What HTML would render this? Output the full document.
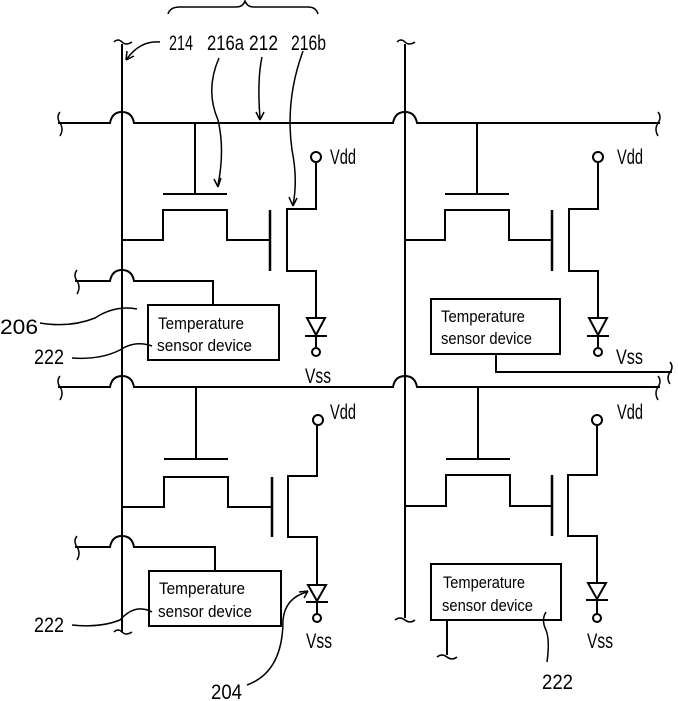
<!DOCTYPE html>
<html><head><meta charset="utf-8"><style>html,body{margin:0;padding:0;background:#fff}svg{display:block}</style></head><body>
<svg width="678" height="701" viewBox="0 0 678 701" xmlns="http://www.w3.org/2000/svg" font-family="Liberation Sans, sans-serif" fill="none" stroke="#000" stroke-width="2">
<path d="M168,14 Q170,7 180,7 L236,7 Q243,7 245,1 Q247,7 254,7 L308,7 Q316,7 318,14" stroke-width="1.5"/>
<path d="M122,44 L122,632"/>
<path d="M405,44 L405,618"/>
<path d="M114,42 q4,-4 8,0 q4,4 10,0" stroke-width="1.5"/>
<path d="M397,42 q4,-4 8,0 q4,4 10,0" stroke-width="1.5"/>
<path d="M114,632 q4,-4 8,0 q4,4 10,0" stroke-width="1.5"/>
<path d="M395,620 q5,-4 10,0 q5,4 10,0" stroke-width="1.5"/>
<path d="M58,123 L110,123 Q112,112 122,112 Q132,112 134,123 L393,123 Q395,112 405,112 Q415,112 417,123 L660,123"/>
<path d="M60,112 q-4,5 0,11 q4,6 0,13" stroke-width="1.5"/>
<path d="M658,112 q4,5 0,11 q-4,6 0,13" stroke-width="1.5"/>
<path d="M58,387 L110,387 Q112,376 122,376 Q132,376 134,387 L393,387 Q395,376 405,376 Q415,376 417,387 L660,387"/>
<path d="M60,376 q-4,5 0,11 q4,6 0,13" stroke-width="1.5"/>
<path d="M658,376 q4,5 0,11 q-4,6 0,13" stroke-width="1.5"/>
<path d="M75,281 L110,281 Q112,270 122,270 Q132,270 134,281 L213,281 L213,305"/>
<path d="M77,270 q-4,5 0,11 q4,6 0,13" stroke-width="1.5"/>
<path d="M75,547 L110,547 Q112,536 122,536 Q132,536 134,547 L215,547 L215,571"/>
<path d="M77,536 q-4,5 0,11 q4,6 0,13" stroke-width="1.5"/>
<path d="M496,354 L496,372 L672,372"/>
<path d="M670,362 q4,5 0,10 q-4,6 0,12" stroke-width="1.5"/>
<path d="M447,620 L447,655"/>
<path d="M437,657 q5,-4 10,0 q5,4 10,0" stroke-width="1.5"/>

<g>
<path d="M195,123 L195,194 M163,194 L227,194"/>
<path d="M122,240 L163,240 L163,210 L227,210 L227,240 L270,240"/>
<path d="M270,210 L270,271" stroke-width="2.5"/>
<path d="M316,163 L316,209 L287,209 L287,271 L316,271 L316,318"/>
<circle cx="316" cy="157" r="5"/>
<path d="M307,318 L325,318 L316,335 Z M305,336 L327,336 M316,336 L316,347"/>
<circle cx="316" cy="352" r="4"/>
</g>
<g transform="translate(282,0)">
<path d="M195,123 L195,194 M163,194 L227,194"/>
<path d="M123,240 L163,240 L163,210 L227,210 L227,240 L270,240"/>
<path d="M270,210 L270,271" stroke-width="2.5"/>
<path d="M316,163 L316,209 L287,209 L287,271 L316,271 L316,318"/>
<circle cx="316" cy="157" r="5"/>
<path d="M307,318 L325,318 L316,335 Z M305,336 L327,336 M316,336 L316,347"/>
<circle cx="316" cy="352" r="4"/>
</g>
<g transform="translate(1,265)">
<path d="M195,122 L195,194 M163,194 L227,194"/>
<path d="M121,242 L163,242 L163,212 L227,212 L227,242 L270,242"/>
<path d="M271,212 L271,272" stroke-width="2.5"/>
<path d="M316,161 L316,211 L287,211 L287,272 L316,272 L316,320"/>
<circle cx="317" cy="155" r="5"/>
<path d="M307,320 L325,320 L316,336 Z M305,337 L327,337 M316,337 L316,350"/>
<circle cx="316" cy="353" r="4"/>
</g>
<g transform="translate(283,265)">
<path d="M195,122 L195,194 M163,194 L227,194"/>
<path d="M122,241 L163,241 L163,210 L227,210 L227,241 L270,241"/>
<path d="M269,210 L269,271" stroke-width="2.5"/>
<path d="M314,161 L314,210 L285,210 L285,271 L314,271 L314,318"/>
<circle cx="314" cy="155" r="5"/>
<path d="M305,318 L323,318 L314,334 Z M303,335 L325,335 M314,335 L314,349"/>
<circle cx="314" cy="353" r="4"/>
</g>

<rect x="148" y="305" width="131" height="55"/>
<rect x="431" y="299" width="129" height="55"/>
<rect x="149" y="571" width="132" height="55"/>
<rect x="431" y="564" width="130" height="56"/>

<g stroke-width="1.5">
<path d="M160,42 Q140,40 126,60"/><path d="M126,60 l1,-9 M126,60 l8,-4"/>
<path d="M219,58 Q205,90 218,120 Q225,150 218,185"/><path d="M218,187 l-4,-8 M218,187 l3,-9"/>
<path d="M262,57 Q257,80 260,118"/><path d="M260,120 l-4,-8 M260,120 l4,-8"/>
<path d="M303,51 Q285,100 292,150 Q298,180 293,205"/><path d="M293,206 l-4,-9 M293,206 l4,-8"/>
<path d="M40,323 Q70,328 95,318 Q115,305 137,309"/>
<path d="M72,358 Q100,360 120,350 Q135,340 152,346"/>
<path d="M72,625 Q100,628 120,620 Q135,603 152,612"/>
<path d="M247,685 Q283,672 283,620 Q285,598 307,592"/><path d="M308,591 l-9,1 M308,591 l-4,7"/>
<path d="M547,662 Q550,640 546,630 Q541,620 546,612"/>
</g>

<g fill="#000" stroke="none" font-size="21">
<text x="169" y="50" textLength="24" lengthAdjust="spacingAndGlyphs">214</text>
<text x="207" y="50" textLength="37" lengthAdjust="spacingAndGlyphs">216a</text>
<text x="249" y="50" textLength="29" lengthAdjust="spacingAndGlyphs">212</text>
<text x="291" y="50" textLength="35" lengthAdjust="spacingAndGlyphs">216b</text>
<text x="0" y="334" textLength="38" lengthAdjust="spacingAndGlyphs">206</text>
<text x="34" y="364" textLength="30" lengthAdjust="spacingAndGlyphs">222</text>
<text x="34" y="632" textLength="30" lengthAdjust="spacingAndGlyphs">222</text>
<text x="211" y="699" textLength="31" lengthAdjust="spacingAndGlyphs">204</text>
<text x="542" y="689" textLength="31" lengthAdjust="spacingAndGlyphs">222</text>
<text x="330" y="164" textLength="26" lengthAdjust="spacingAndGlyphs">Vdd</text>
<text x="617" y="164" textLength="26" lengthAdjust="spacingAndGlyphs">Vdd</text>
<text x="330" y="419" textLength="26" lengthAdjust="spacingAndGlyphs">Vdd</text>
<text x="617" y="419" textLength="26" lengthAdjust="spacingAndGlyphs">Vdd</text>
<text x="305" y="383" textLength="26" lengthAdjust="spacingAndGlyphs">Vss</text>
<text x="616" y="364" textLength="27" lengthAdjust="spacingAndGlyphs">Vss</text>
<text x="306" y="648" textLength="26" lengthAdjust="spacingAndGlyphs">Vss</text>
<text x="587" y="648" textLength="26" lengthAdjust="spacingAndGlyphs">Vss</text>
</g>
<g fill="#000" stroke="none" font-size="17">
<text x="158" y="329" textLength="86" lengthAdjust="spacingAndGlyphs">Temperature</text>
<text x="157" y="351" textLength="95" lengthAdjust="spacingAndGlyphs">sensor device</text>
<text x="441" y="322" textLength="84" lengthAdjust="spacingAndGlyphs">Temperature</text>
<text x="441" y="344" textLength="91" lengthAdjust="spacingAndGlyphs">sensor device</text>
<text x="159" y="594" textLength="86" lengthAdjust="spacingAndGlyphs">Temperature</text>
<text x="158" y="617" textLength="94" lengthAdjust="spacingAndGlyphs">sensor device</text>
<text x="443" y="588" textLength="82" lengthAdjust="spacingAndGlyphs">Temperature</text>
<text x="442" y="611" textLength="91" lengthAdjust="spacingAndGlyphs">sensor device</text>
</g>
</svg>
</body></html>
